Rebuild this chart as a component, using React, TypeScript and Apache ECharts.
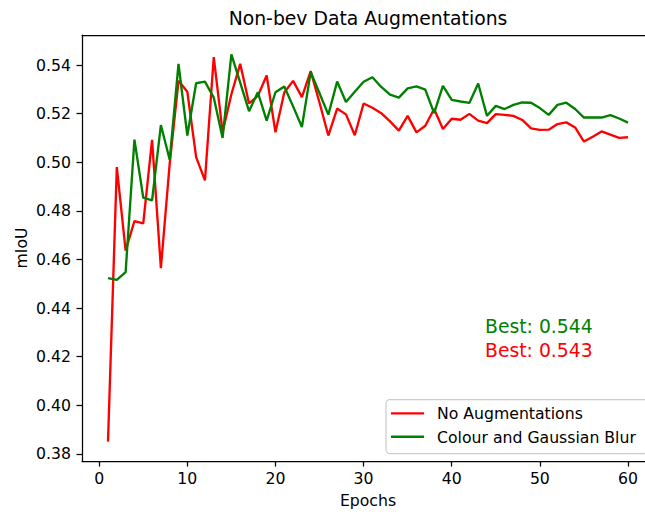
import React, { useEffect, useRef } from "react";
import * as echarts from "echarts";

// ---- data ----
const title = "Non-bev Data Augmentations";
const xLabel = "Epochs";
const yLabel = "mIoU";
const seriesNames = ["No Augmentations", "Colour and Gaussian Blur"];
const seriesColors = ["#ff0000", "#008000"];

const noAug = [
  0.385, 0.498, 0.4636, 0.4758, 0.4748, 0.5092, 0.4564, 0.4994, 0.5335, 0.529,
  0.5021, 0.4925, 0.5433, 0.5125, 0.528, 0.5405, 0.5242, 0.5273, 0.5357, 0.5123,
  0.5287, 0.5335, 0.5268, 0.5375, 0.5245, 0.511, 0.5221, 0.5197, 0.5111, 0.5242,
  0.5224, 0.5202, 0.5168, 0.513, 0.5191, 0.5123, 0.515, 0.5219, 0.5137, 0.5179,
  0.5175, 0.5199, 0.5171, 0.5161, 0.5198, 0.5195, 0.5191, 0.5174, 0.5139, 0.5133,
  0.5134, 0.5157, 0.5164, 0.5143, 0.5085, 0.5105, 0.5127, 0.5114, 0.51, 0.5103,
];
const colourBlur = [
  0.4523, 0.4516, 0.4548, 0.5093, 0.4854, 0.4843, 0.5153, 0.501, 0.5405, 0.511,
  0.5325, 0.5332, 0.5266, 0.51, 0.5444, 0.5328, 0.521, 0.5288, 0.5171, 0.5288,
  0.5312, 0.523, 0.5145, 0.5371, 0.5284, 0.5196, 0.5332, 0.5248, 0.529, 0.5331,
  0.535, 0.531, 0.5278, 0.5266, 0.5304, 0.5312, 0.5299, 0.5202, 0.5314, 0.5257,
  0.525, 0.5244, 0.5324, 0.5191, 0.5232, 0.5219, 0.5236, 0.5246, 0.5245, 0.5223,
  0.5195, 0.5236, 0.5245, 0.5219, 0.5184, 0.5184, 0.5184, 0.5194, 0.518, 0.5163,
];
const bestTexts = ["Best: 0.544", "Best: 0.543"];
const xTicks = [0, 10, 20, 30, 40, 50, 60];
const yTicks = [0.38, 0.4, 0.42, 0.44, 0.46, 0.48, 0.5, 0.52, 0.54];

const FONT = "DejaVu Sans";

export default function App() {
  const ref = useRef<HTMLDivElement>(null);

  useEffect(() => {
    const chart = echarts.init(ref.current!, null, { renderer: "svg" });
    const epochs = noAug.map((_, i) => i + 1);
    const all = noAug.concat(colourBlur);
    const dMin = Math.min(...all);
    const dMax = Math.max(...all);
    const yPad = (dMax - dMin) * 0.05;
    const xPad = (epochs[epochs.length - 1] - epochs[0]) * 0.05;
    const xMin = epochs[0] - xPad;
    const xFullMax = epochs[epochs.length - 1] + xPad;
    // the original axes extend past the right edge of the picture (cropped figure)
    const gridLeft = 82;
    const axesRight = 654;
    const width = 645;
    const xMax = xMin + (xFullMax - xMin) * ((width - gridLeft) / (axesRight - gridLeft));

    const axisLineStyle = { color: "#000", width: 1.25 };
    const labelStyle = { color: "#000", fontSize: 15.7, fontFamily: FONT };

    chart.setOption({
      animation: false,
      backgroundColor: "#fff",
      grid: { left: gridLeft, right: 0, top: 35, bottom: 51 },
      xAxis: [
        {
          type: "value",
          min: xMin,
          max: xMax,
          position: "bottom",
          axisLine: { show: true, onZero: false, lineStyle: axisLineStyle },
          axisTick: { show: true, length: 5.5, lineStyle: axisLineStyle, customValues: xTicks },
          axisLabel: { ...labelStyle, margin: 9, customValues: xTicks, formatter: (v: number) => String(v) },
          splitLine: { show: false },
        },
        {
          type: "value",
          min: xMin,
          max: xMax,
          position: "top",
          axisLine: { show: true, onZero: false, lineStyle: axisLineStyle },
          axisTick: { show: false },
          axisLabel: { show: false },
          splitLine: { show: false },
        },
      ],
      yAxis: {
        type: "value",
        min: dMin - yPad,
        max: dMax + yPad,
        axisLine: { show: true, onZero: false, lineStyle: axisLineStyle },
        axisTick: { show: true, length: 5.5, lineStyle: axisLineStyle, customValues: yTicks },
        axisLabel: { ...labelStyle, margin: 11, customValues: yTicks, formatter: (v: number) => v.toFixed(2) },
        splitLine: { show: false },
      },
      series: [
        {
          name: seriesNames[0],
          type: "line",
          data: epochs.map((e, i) => [e, noAug[i]]),
          showSymbol: false,
          lineStyle: { color: seriesColors[0], width: 2.35 },
          itemStyle: { color: seriesColors[0] },
        },
        {
          name: seriesNames[1],
          type: "line",
          data: epochs.map((e, i) => [e, colourBlur[i]]),
          showSymbol: false,
          lineStyle: { color: seriesColors[1], width: 2.35 },
          itemStyle: { color: seriesColors[1] },
        },
      ],
      graphic: [
        {
          type: "text",
          x: 368,
          y: 18,
          style: { text: title, fontSize: 18.8, fontFamily: FONT, fill: "#000", align: "center", verticalAlign: "middle" },
        },
        {
          type: "text",
          x: 368,
          y: 500,
          style: { text: xLabel, fontSize: 15.7, fontFamily: FONT, fill: "#000", align: "center", verticalAlign: "middle" },
        },
        {
          type: "text",
          x: 21,
          y: 248,
          rotation: Math.PI / 2,
          style: { text: yLabel, fontSize: 15.7, fontFamily: FONT, fill: "#000", align: "center", verticalAlign: "middle" },
        },
        {
          type: "text",
          x: 485,
          y: 326,
          style: { text: bestTexts[0], fontSize: 18.8, fontFamily: FONT, fill: seriesColors[1], align: "left", verticalAlign: "middle" },
        },
        {
          type: "text",
          x: 485,
          y: 350,
          style: { text: bestTexts[1], fontSize: 18.8, fontFamily: FONT, fill: seriesColors[0], align: "left", verticalAlign: "middle" },
        },
        {
          type: "group",
          z: 100,
          children: [
            {
              type: "rect",
              shape: { x: 386, y: 399.5, width: 262, height: 54, r: 4 },
              style: { fill: "rgba(255,255,255,0.8)", stroke: "#cccccc", lineWidth: 1.25 },
            },
            {
              type: "line",
              shape: { x1: 391, y1: 413.3, x2: 424, y2: 413.3 },
              style: { stroke: seriesColors[0], lineWidth: 2.35 },
            },
            {
              type: "line",
              shape: { x1: 391, y1: 436.7, x2: 424, y2: 436.7 },
              style: { stroke: seriesColors[1], lineWidth: 2.35 },
            },
            {
              type: "text",
              x: 437,
              y: 413.5,
              style: { text: seriesNames[0], fontSize: 15.7, fontFamily: FONT, fill: "#000", align: "left", verticalAlign: "middle" },
            },
            {
              type: "text",
              x: 437,
              y: 437,
              style: { text: seriesNames[1], fontSize: 15.7, fontFamily: FONT, fill: "#000", align: "left", verticalAlign: "middle" },
            },
          ],
        },
      ],
    });
    return () => chart.dispose();
  }, []);

  return (
    <div
      ref={ref}
      style={{ position: "fixed", left: 0, top: 0, width: 645, height: 512, background: "#fff" }}
    />
  );
}
